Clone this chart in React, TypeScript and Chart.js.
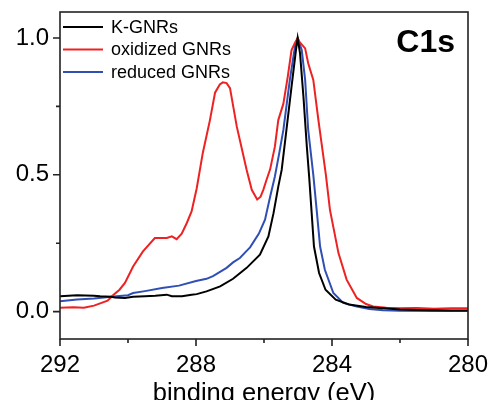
import React, { useEffect, useRef } from "react";
import { Chart, registerables } from "chart.js";

Chart.register(...registerables);

const FONT = "'Liberation Sans', Arial, Helvetica, sans-serif";

// Series: binding energy (eV) and normalized intensity
const kEnergy = [292, 291.5, 291.0, 290.82, 290.5, 290.38, 290.09, 289.85, 289.5, 289.2, 288.86, 288.71, 288.41, 288.13, 287.98, 287.69, 287.29, 286.91, 286.51, 286.12, 285.87, 285.72, 285.58, 285.48, 285.34, 285.19, 285.06, 285.01, 284.94, 284.84, 284.74, 284.67, 284.53, 284.38, 284.19, 283.89, 283.5, 283.0, 282.6, 282, 281.5, 281, 280.5, 280];
const kValues = [0.056, 0.06, 0.058, 0.056, 0.054, 0.052, 0.05, 0.054, 0.056, 0.058, 0.062, 0.056, 0.056, 0.062, 0.064, 0.074, 0.092, 0.12, 0.16, 0.208, 0.275, 0.36, 0.457, 0.518, 0.664, 0.822, 0.956, 1.0, 0.944, 0.786, 0.603, 0.49, 0.238, 0.141, 0.08, 0.044, 0.026, 0.017, 0.013, 0.008, 0.006, 0.005, 0.004, 0.004];

const oxEnergy = [292, 291.6, 291.3, 291.0, 290.82, 290.6, 290.44, 290.25, 290.09, 289.85, 289.56, 289.21, 288.86, 288.71, 288.57, 288.42, 288.27, 288.13, 287.98, 287.8, 287.59, 287.44, 287.3, 287.21, 287.1, 287.0, 286.8, 286.51, 286.36, 286.2, 286.1, 286.02, 285.93, 285.82, 285.68, 285.58, 285.43, 285.3, 285.19, 285.08, 285.01, 284.95, 284.88, 284.79, 284.7, 284.55, 284.4, 284.18, 284.06, 283.81, 283.57, 283.27, 283.0, 282.79, 282.4, 282.0, 281.5, 281.0, 280.5, 280];
const oxValues = [0.014, 0.016, 0.014, 0.022, 0.03, 0.04, 0.06, 0.08, 0.105, 0.165, 0.22, 0.269, 0.269, 0.275, 0.265, 0.285, 0.324, 0.366, 0.45, 0.58, 0.70, 0.80, 0.83, 0.838, 0.835, 0.817, 0.676, 0.518, 0.445, 0.41, 0.42, 0.445, 0.48, 0.52, 0.603, 0.70, 0.76, 0.86, 0.956, 0.985, 1.0, 0.985, 0.975, 0.962, 0.908, 0.847, 0.70, 0.5, 0.372, 0.214, 0.117, 0.05, 0.028, 0.019, 0.014, 0.012, 0.013, 0.011, 0.012, 0.012];

const redEnergy = [292, 291.5, 291, 290.5, 290.0, 289.85, 289.5, 289.0, 288.5, 288.0, 287.69, 287.5, 287.1, 286.91, 286.71, 286.51, 286.41, 286.15, 285.97, 285.82, 285.68, 285.55, 285.43, 285.24, 285.09, 285.01, 284.89, 284.79, 284.7, 284.55, 284.45, 284.35, 284.21, 283.96, 283.67, 283.27, 282.9, 282.5, 282, 281, 280];
const redValues = [0.038, 0.044, 0.048, 0.054, 0.06, 0.068, 0.075, 0.086, 0.095, 0.112, 0.12, 0.13, 0.16, 0.18, 0.196, 0.222, 0.235, 0.285, 0.336, 0.42, 0.494, 0.58, 0.664, 0.847, 0.968, 1.0, 0.956, 0.847, 0.664, 0.5, 0.37, 0.238, 0.153, 0.068, 0.032, 0.019, 0.01, 0.005, 0.003, 0.002, 0.002];

const seriesLabels = ["K-GNRs", "oxidized GNRs", "reduced GNRs"];
const seriesColors = ["#000000", "#ee2222", "#2f4fb5"];

const xMajorTicks = [292, 288, 284, 280];
const xMinorTicks = [290, 286, 282];
const yMajorTicks = [0, 0.5, 1.0];
const yMinorTicks = [0.25, 0.75];

const toPoints = (xs: number[], ys: number[]) => xs.map((x, i) => ({ x, y: ys[i] }));

const decorPlugin = {
  id: "decor",
  afterDatasetsDraw(chart: any) {
    const { ctx, chartArea, scales } = chart;
    const { left, right, top, bottom } = chartArea;
    const xs = scales.x;
    const ys = scales.y;
    ctx.save();
    ctx.strokeStyle = "#222";
    ctx.lineWidth = 1.6;
    ctx.strokeRect(left, top, right - left, bottom - top);
    ctx.beginPath();
    xMajorTicks.forEach((v) => {
      const px = xs.getPixelForValue(v);
      ctx.moveTo(px, bottom);
      ctx.lineTo(px, bottom + 7);
    });
    xMinorTicks.forEach((v) => {
      const px = xs.getPixelForValue(v);
      ctx.moveTo(px, bottom);
      ctx.lineTo(px, bottom + 4);
    });
    yMajorTicks.forEach((v) => {
      const py = ys.getPixelForValue(v);
      ctx.moveTo(left, py);
      ctx.lineTo(left - 7, py);
    });
    yMinorTicks.forEach((v) => {
      const py = ys.getPixelForValue(v);
      ctx.moveTo(left, py);
      ctx.lineTo(left - 4, py);
    });
    ctx.stroke();

    // legend
    ctx.font = `18px ${FONT}`;
    ctx.textBaseline = "middle";
    ctx.textAlign = "left";
    chart.data.datasets.forEach((ds: any, i: number) => {
      const y = top + 15 + i * 22.5;
      ctx.strokeStyle = ds.borderColor;
      ctx.lineWidth = 2;
      ctx.beginPath();
      ctx.moveTo(left + 3, y);
      ctx.lineTo(left + 43, y);
      ctx.stroke();
      ctx.fillStyle = "#000";
      ctx.fillText(ds.label, left + 51, y + 1);
    });

    // panel label
    ctx.font = `bold 32px ${FONT}`;
    ctx.textAlign = "right";
    ctx.textBaseline = "alphabetic";
    ctx.fillStyle = "#000";
    ctx.fillText("C1s", right - 13, top + 40);
    ctx.restore();
  },
};

export default function App() {
  const canvasRef = useRef<HTMLCanvasElement | null>(null);

  useEffect(() => {
    const canvas = canvasRef.current;
    if (!canvas) return;
    const datasets = [
      toPoints(kEnergy, kValues),
      toPoints(oxEnergy, oxValues),
      toPoints(redEnergy, redValues),
    ].map((data, i) => ({
      label: seriesLabels[i],
      data,
      borderColor: seriesColors[i],
      backgroundColor: seriesColors[i],
      borderWidth: 2,
      pointRadius: 0,
      tension: 0,
      fill: false,
    }));
    const chart = new Chart(canvas, {
      type: "line",
      data: { datasets },
      options: {
        animation: false,
        responsive: false,
        maintainAspectRatio: false,
        layout: { padding: { top: 12, right: 23, left: 0, bottom: 0 } },
        plugins: { legend: { display: false }, tooltip: { enabled: false } },
        scales: {
          x: {
            type: "linear",
            reverse: true,
            min: 280,
            max: 292,
            grid: { display: false, drawTicks: false },
            border: { display: false },
            afterBuildTicks: (scale: any) => {
              scale.ticks = xMajorTicks.map((v) => ({ value: v }));
            },
            afterFit: (scale: any) => {
              scale.height = 61;
              scale.paddingLeft = 0;
              scale.paddingRight = 0;
            },
            ticks: {
              padding: 12,
              color: "#000",
              font: { family: FONT, size: 24 },
              maxRotation: 0,
              autoSkip: false,
              callback: (v: any) => String(v),
            },
            title: {
              display: true,
              text: "binding energy (eV)",
              color: "#000",
              font: { family: FONT, size: 25.5 },
              padding: { top: 0, bottom: -9 },
            },
          },
          y: {
            type: "linear",
            min: -0.1,
            max: 1.095,
            grid: { display: false, drawTicks: false },
            border: { display: false },
            afterBuildTicks: (scale: any) => {
              scale.ticks = yMajorTicks.map((v) => ({ value: v }));
            },
            afterFit: (scale: any) => {
              scale.width = 60;
              scale.paddingTop = 0;
              scale.paddingBottom = 0;
            },
            ticks: {
              padding: 11,
              color: "#000",
              font: { family: FONT, size: 24 },
              callback: (v: any) => Number(v).toFixed(1),
            },
          },
        },
      },
      plugins: [decorPlugin],
    });
    return () => chart.destroy();
  }, []);

  return (
    <div style={{ position: "fixed", left: 0, top: 0, width: 491, height: 400, background: "#fff" }}>
      <canvas ref={canvasRef} width={491} height={400} style={{ display: "block" }} />
    </div>
  );
}
